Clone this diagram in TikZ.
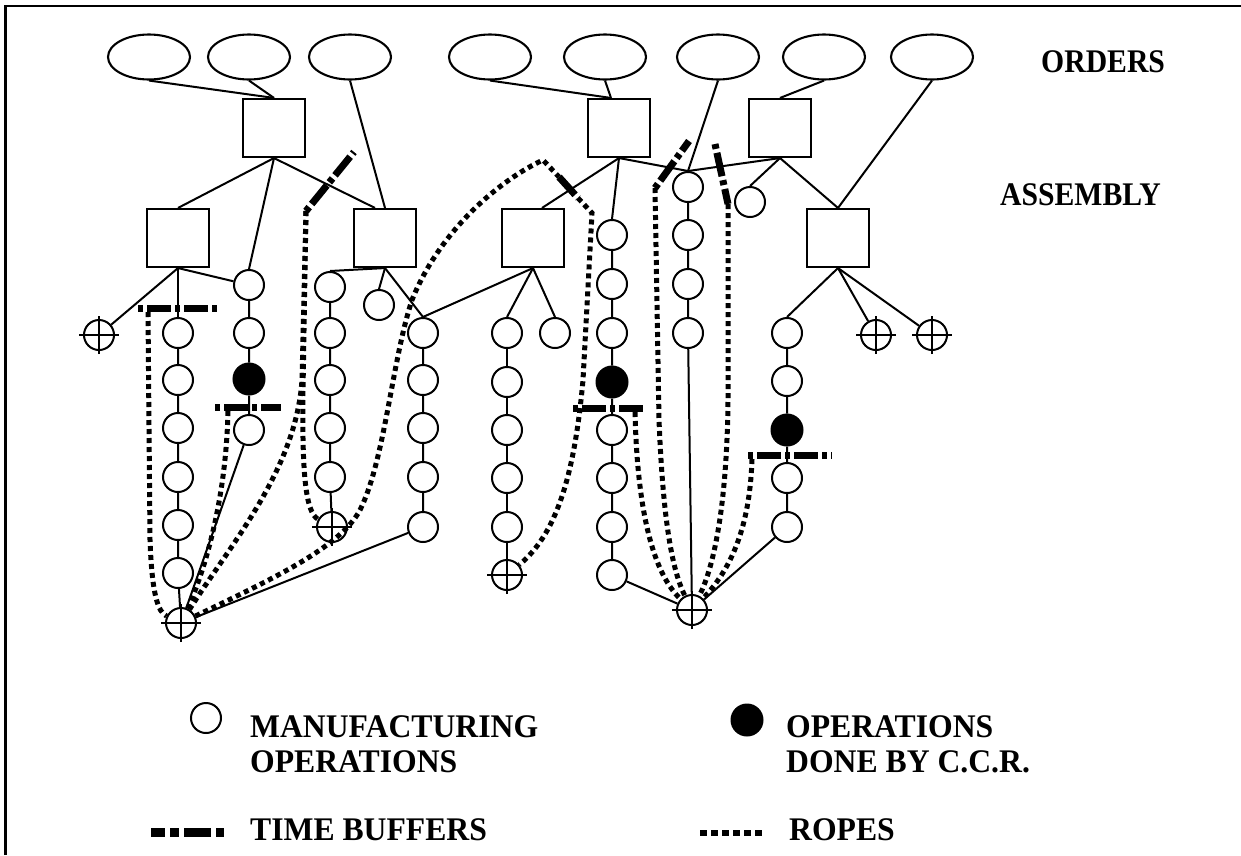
\documentclass[tikz,border=0pt]{standalone}
\usepackage{fontspec}
\setmainfont{Liberation Serif}
\newfontfamily\lblf[FakeStretch=0.9]{Liberation Serif}
\newfontfamily\legf[FakeStretch=0.96]{Liberation Serif}
\usetikzlibrary{shapes.geometric,calc,backgrounds}
\begin{document}
\begin{tikzpicture}[x=1pt,y=-1pt,
  conn/.style={line width=2pt},
  order/.style={ellipse,draw,line width=2.1pt,minimum width=82pt,minimum height=45pt,inner sep=0pt,fill=white},
  asm/.style={rectangle,draw,line width=2.1pt,minimum width=62pt,minimum height=58pt,inner sep=0pt,fill=white},
  op/.style={circle,draw,line width=2pt,minimum size=30pt,inner sep=0pt,fill=white},
  ccr/.style={circle,draw,fill=black,line width=2pt,minimum size=31pt,inner sep=0pt},
  mat/.style={circle,draw,line width=2pt,minimum size=30pt,inner sep=0pt,fill=white},
  buffer/.style={line width=7pt,dash pattern=on 5pt off 4pt on 24pt off 4pt},
  rope/.style={line width=5pt,dash pattern=on 5pt off 4pt},
  lbl/.style={anchor=base west,inner sep=0pt,font=\lblf\bfseries\fontsize{33}{35}\selectfont},
  leg/.style={anchor=base west,inner sep=0pt,font=\legf\bfseries\fontsize{33}{35}\selectfont}
]
\useasboundingbox (0,0) rectangle (1241,855);

% orders
\node[order] (o1) at (149,57) {};
\node[order] (o2) at (249,57) {};
\node[order] (o3) at (350,57) {};
\node[order] (o4) at (490,57) {};
\node[order] (o5) at (605,57) {};
\node[order] (o6) at (718,57) {};
\node[order] (o7) at (824,57) {};
\node[order] (o8) at (932,57) {};

% assemblies
\node[asm] (a1) at (274,128) {};
\node[asm] (a5) at (619,128) {};
\node[asm] (a6) at (780,128) {};
\node[asm] (a2) at (178,238) {};
\node[asm] (a3) at (385,238) {};
\node[asm] (a4) at (533,238) {};
\node[asm] (a7) at (838,238) {};

% column 1
\foreach \n/\y in {a/333,b/380,c/428,d/477,e/525,f/573} \node[op] (c1\n) at (178,\y) {};
% column 2
\node[op] (c2a) at (249,285) {};
\node[op] (c2b) at (249,333) {};
\node[ccr] (c2c) at (249,379) {};
\node[op] (c2d) at (249,430) {};
% column 3
\foreach \n/\y in {a/287,b/333,c/380,d/428,e/477} \node[op] (c3\n) at (330,\y) {};
\node[op] (s3) at (379,305) {};
% column 4
\foreach \n/\y in {a/333,b/380,c/428,d/477,e/527} \node[op] (c4\n) at (423,\y) {};
% column 5
\foreach \n/\y in {a/333,b/382,c/430,d/478,e/527} \node[op] (c5\n) at (507,\y) {};
\node[op] (s4) at (555,333) {};
% column 6
\foreach \n/\y in {a/235,b/284,c/333,e/430,f/478,g/527,h/575} \node[op] (c6\n) at (612,\y) {};
\node[ccr] (c6d) at (612,382) {};
% column 7
\foreach \n/\y in {a/187,b/235,c/284,d/333} \node[op] (c7\n) at (688,\y) {};
\node[op] (s6) at (750,202) {};
% column 8
\foreach \n/\y in {a/333,b/381,d/478,e/527} \node[op] (c8\n) at (787,\y) {};
\node[ccr] (c8c) at (787,430) {};

% material release points
\node[mat] (m0) at (692,610) {};
\node[mat] (m1) at (181,623) {};
\node[mat] (m2) at (99,335) {};
\node[mat] (m3) at (332,527) {};
\node[mat] (m5) at (507,575) {};
\node[mat] (m7) at (876,335) {};
\node[mat] (m8) at (932,335) {};
\foreach \n in {m0,m1,m2,m3,m5,m7,m8}
  \draw[conn] ([xshift=-20pt]\n.center) -- ([xshift=20pt]\n.center)
              ([yshift=-19pt]\n.center) -- ([yshift=19pt]\n.center);

\begin{scope}[on background layer]
\fill[white] (0,0) rectangle (1241,855);
\draw[line width=2.5pt] (5.5,855) -- (5.5,6) -- (1241,6);
\draw[conn] (o1.south) -- (a1.north);
\draw[conn] (o2.south) -- (a1.north);
\draw[conn] (o3.south) -- (a3.north);
\draw[conn] (o4.south) -- ([xshift=-8pt]a5.north);
\draw[conn] (o5.south) -- ([xshift=-8pt]a5.north);
\draw[conn] (o6.south) -- (c7a.north);
\draw[conn] (o7.south) -- (a6.north);
\draw[conn] (o8.south) -- (a7.north);
\draw[conn] (a1.south) -- (a2.north);
\draw[conn] (a1.south) -- (c2a.north);
\draw[conn] (a1.south) -- ([xshift=-10pt]a3.north);
\draw[conn] (a2.south) -- (m2);
\draw[conn] (a2.south) -- (c1a.north);
\draw[conn] (a2.south) -- (c2a);
\draw[conn] (a3.south) -- (c3a.north);
\draw[conn] (a3.south) -- (s3.north);
\draw[conn] (a3.south) -- (c4a.north);
\draw[conn] (a4.south) -- (c4a.north);
\draw[conn] (a4.south) -- (c5a.north);
\draw[conn] (a4.south) -- (s4.north);
\draw[conn] (a5.south) -- ([xshift=9pt]a4.north);
\draw[conn] (a5.south) -- (c6a.north);
\draw[conn] (a5.south) -- (c7a.north);
\draw[conn] (a6.south) -- (c7a.north);
\draw[conn] (a6.south) -- (s6.north);
\draw[conn] (a6.south) -- (a7.north);
\draw[conn] (a7.south) -- (c8a.north);
\draw[conn] (a7.south) -- (m7);
\draw[conn] (a7.south) -- (m8);
\draw[conn] (c1a) -- (c1b) -- (c1c) -- (c1d) -- (c1e) -- (c1f) -- (m1);
\draw[conn] (c2a) -- (c2b) -- (c2c) -- (c2d) -- (m1);
\draw[conn] (c3a) -- (c3b) -- (c3c) -- (c3d) -- (c3e) -- (m3);
\draw[conn] (c4a) -- (c4b) -- (c4c) -- (c4d) -- (c4e) -- (m1);
\draw[conn] (c5a) -- (c5b) -- (c5c) -- (c5d) -- (c5e) -- (m5);
\draw[conn] (c6a) -- (c6b) -- (c6c) -- (c6d) -- (c6e) -- (c6f) -- (c6g) -- (c6h) -- (m0);
\draw[conn] (c7a) -- (c7b) -- (c7c) -- (c7d) -- (m0);
\draw[conn] (c8a) -- (c8b) -- (c8c) -- (c8d) -- (c8e) -- (m0);
\end{scope}

% time buffers
\coordinate (b1w) at (138,308); \coordinate (b1e) at (218,308);
\coordinate (b2w) at (215,407); \coordinate (b2e) at (281,407);
\coordinate (b3s) at (306,211); \coordinate (b3n) at (354,152);
\coordinate (b4a) at (559,177); \coordinate (b4b) at (578,198);
\coordinate (b5w) at (573,408); \coordinate (b5e) at (645,408);
\coordinate (b6s) at (655,188); \coordinate (b6n) at (689,141);
\coordinate (b7n) at (715,144); \coordinate (b7s) at (728,204);
\coordinate (b8w) at (748,455); \coordinate (b8e) at (832,455);
\draw[buffer] (b1w) -- (b1e);
\draw[buffer] (b2w) -- (b2e);
\draw[buffer] (b3s) -- (b3n);
\draw[buffer,dash pattern=on 24pt off 4pt] (b4a) -- (b4b);
\draw[buffer] (b5w) -- (b5e);
\draw[buffer] (b6s) -- (b6n);
\draw[buffer] (b7n) -- (b7s);
\draw[buffer] (b8w) -- (b8e);

% ropes
\coordinate (r1s) at (148,312);
\coordinate (r2s) at (228,411);
\coordinate (r6s) at (635,412);
\coordinate (r9s) at (752,459);
\draw[rope] (r1s) -- (150,540) .. controls (152,595) and (158,612) .. (m1);
\draw[rope] (r2s) .. controls (226,500) and (205,570) .. (m1);
\draw[rope] (b3s) -- (303,390) .. controls (302,470) and (305,512) .. (m3);
\draw[rope] (b3s) -- (302,380) .. controls (296,470) and (230,545) .. (m1);
\draw[rope] (m1) .. controls (270,580) and (340,548) .. (360,510)
  .. controls (385,460) and (392,360) .. (412,300)
  .. controls (440,230) and (500,180) .. (543,160) -- (b4a);
\draw[rope] (b4b) -- (592,213) -- (583,380) .. controls (574,480) and (555,535) .. (m5);
\draw[rope] (r6s) .. controls (637,500) and (650,570) .. (m0);
\draw[rope] (b6s) -- (659,420) .. controls (663,520) and (672,570) .. (m0);
\draw[rope] (b7s) -- (728,400) .. controls (727,500) and (715,565) .. (m0);
\draw[rope] (r9s) .. controls (750,520) and (735,565) .. (m0);

% labels
\node[lbl] (tord) at (1041,72) {ORDERS};
\node[lbl] (tasm) at (1000,205) {ASSEMBLY};

% legend
\node[op] (lg1) at (206,718) {};
\node[ccr] (lg2) at (747,720) {};
\node[leg] (t1) at (250,737) {MANUFACTURING};
\node[leg] (t2) at (250,772) {OPERATIONS};
\node[leg] (t3) at (786,737) {OPERATIONS};
\node[leg] (t4) at (786,772) {DONE BY C.C.R.};
\coordinate (lb1) at (151,832); \coordinate (lb2) at (224,832);
\draw[line width=9pt,dash pattern=on 14pt off 5pt on 9pt off 5pt on 27pt off 5pt on 8pt] (lb1) -- (lb2);
\node[leg] (t5) at (250,840) {TIME BUFFERS};
\coordinate (lr1) at (700,833); \coordinate (lr2) at (763,833);
\draw[line width=5.5pt,dash pattern=on 7pt off 4pt] (lr1) -- (lr2);
\node[leg] (t6) at (789,840) {ROPES};
\end{tikzpicture}
\end{document}
